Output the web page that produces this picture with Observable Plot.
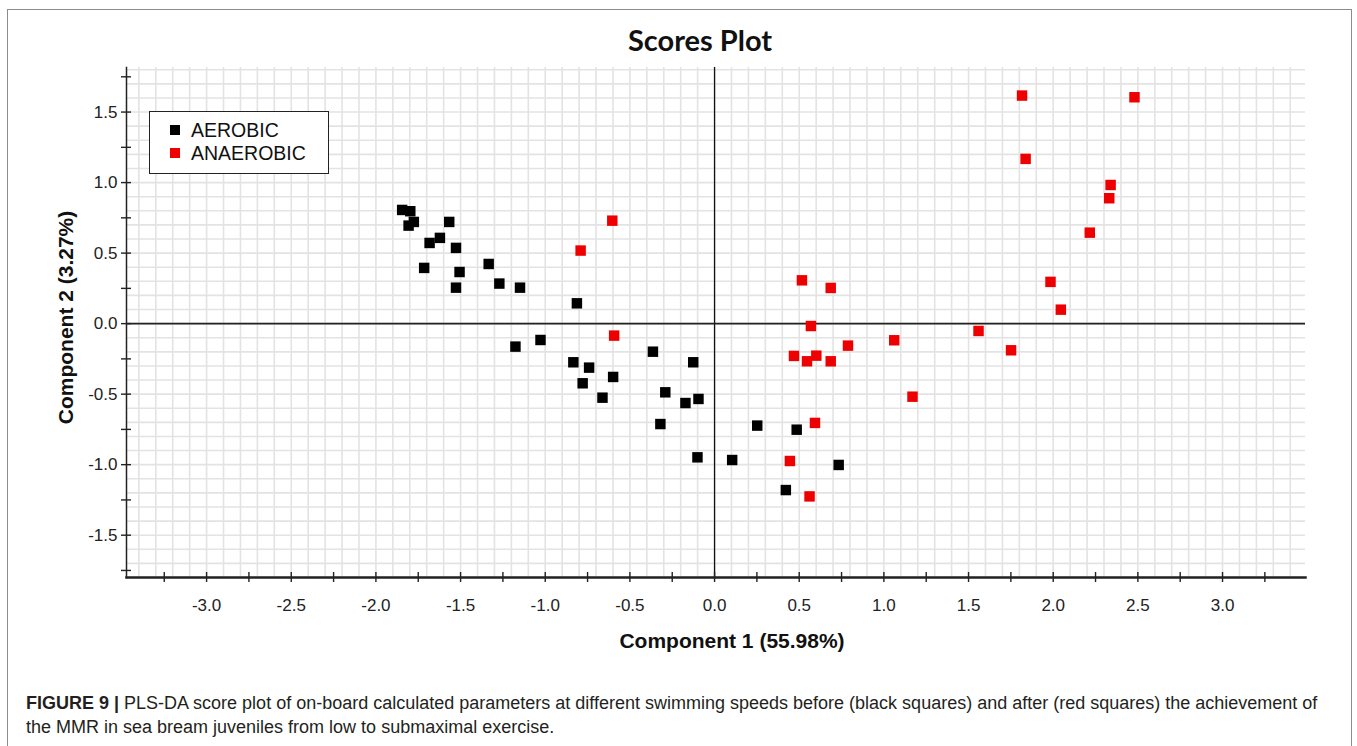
<!DOCTYPE html>
<html>
<head>
<meta charset="utf-8">
<script src="https://cdn.jsdelivr.net/npm/d3@7"></script>
<script src="https://cdn.jsdelivr.net/npm/@observablehq/plot@0.6"></script>
<style>
  html, body { margin: 0; padding: 0; background: #fff; }
  #page { position: relative; width: 1357px; height: 746px; overflow: hidden; font-family: "Liberation Sans", Arial, sans-serif; color: #222; }
  #border { position: absolute; left: 7px; top: 9px; width: 1345px; height: 800px; border: 1.5px solid #8c8c8c; box-sizing: border-box; }
  #chart { position: absolute; left: 0; top: 0; }
  #title { position: absolute; left: 0; width: 1400px; top: 24px; text-align: center; font-family: Lato, "Open Sans", sans-serif; font-weight: 700; font-size: 29px; line-height: 32px; color: #111; }
  #legend { position: absolute; left: 149px; top: 111px; width: 180px; height: 63px; border: 1.5px solid #222; background: #fff; box-sizing: border-box; }
  .item { position: absolute; left: 20px; height: 22px; line-height: 22px; font-size: 19.5px; color: #111; }
  .item span.sw { position: absolute; left: 0; top: 6px; width: 10px; height: 10px; }
  .item span.lb { position: absolute; left: 21px; top: 0; white-space: nowrap; }
  #caption { position: absolute; left: 26px; top: 691px; font-size: 18px; line-height: 24px; color: #231f20; white-space: nowrap; }
  #caption b { font-weight: 700; }
</style>
</head>
<body>
<div id="page">
  <div id="border"></div>
  <div id="chart"></div>
  <div id="title">Scores Plot</div>
  <div id="legend"></div>
  <div id="caption"></div>
</div>
<script>
// PLS-DA scores: component 1 (x) and component 2 (y) for each group
const groups = ["AEROBIC", "ANAEROBIC"];
const groupColors = ["#000000", "#ee0000"];

const aerobicX = [-1.845, -1.797, -1.776, -1.807, -1.567, -1.683, -1.622, -1.527, -1.715, -1.506,
                  -1.527, -1.334, -1.271, -1.149, -0.813, -1.176, -1.028, -0.834, -0.741, -0.779,
                  -0.599, -0.662, -0.364, -0.126, -0.291, -0.172, -0.095, -0.320, -0.101, 0.252,
                  0.485, 0.104, 0.733, 0.421];
const aerobicY = [0.806, 0.797, 0.721, 0.695, 0.721, 0.572, 0.608, 0.537, 0.395, 0.366,
                  0.255, 0.423, 0.284, 0.255, 0.144, -0.163, -0.116, -0.274, -0.312, -0.423,
                  -0.378, -0.525, -0.199, -0.274, -0.487, -0.563, -0.534, -0.712, -0.948, -0.723,
                  -0.752, -0.967, -1.002, -1.180];

const anaerobicX = [-0.791, -0.604, -0.593, 0.516, 0.686, 0.569, 0.788, 1.061, 0.469, 0.601,
                    0.546, 0.686, 1.169, 0.593, 0.445, 0.561, 1.816, 2.480, 1.837, 2.339,
                    2.331, 2.216, 1.984, 2.045, 1.559, 1.751];
const anaerobicY = [0.518, 0.730, -0.085, 0.307, 0.253, -0.017, -0.156, -0.118, -0.229, -0.227,
                    -0.267, -0.267, -0.518, -0.704, -0.974, -1.225, 1.617, 1.605, 1.168, 0.983,
                    0.889, 0.645, 0.296, 0.099, -0.052, -0.189];

// Axis tick labels and tick-mark positions
const xTickLabels = [-3.0, -2.5, -2.0, -1.5, -1.0, -0.5, 0.0, 0.5, 1.0, 1.5, 2.0, 2.5, 3.0];
const yTickLabels = [-1.5, -1.0, -0.5, 0.0, 0.5, 1.0, 1.5];
const xTickMarks = d3.range(-13, 14).map(i => i * 0.25);
const yTickMarks = d3.range(-7, 8).map(i => i * 0.25);
const xGrid = d3.range(-34, 35).map(i => i / 10);
const yGrid = d3.range(-18, 19).map(i => i / 10);

const scores = [
  ...aerobicX.map((v, i) => ({group: groups[0], c1: v, c2: aerobicY[i]})),
  ...anaerobicX.map((v, i) => ({group: groups[1], c1: v, c2: anaerobicY[i]}))
];

const fmt = d => d.toFixed(1);

const chart = Plot.plot({
  width: 1357,
  height: 680,
  marginLeft: 126,
  marginRight: 52,
  marginTop: 67,
  marginBottom: 103,
  x: {domain: [-3.473, 3.49]},
  y: {domain: [-1.80, 1.816]},
  color: {domain: groups, range: groupColors},
  style: {fontFamily: "'Liberation Sans', Arial, sans-serif", background: "transparent", overflow: "visible", color: "#222"},
  marks: [
    Plot.gridX(xGrid, {stroke: "#e3e3e3", strokeOpacity: 1, strokeWidth: 1.6}),
    Plot.gridY(yGrid, {stroke: "#e3e3e3", strokeOpacity: 1, strokeWidth: 1.6}),
    Plot.ruleX([0], {stroke: "#111", strokeWidth: 1.3}),
    Plot.ruleY([0], {stroke: "#222", strokeWidth: 1.8}),
    Plot.frame({anchor: "left", stroke: "#222", strokeWidth: 1.5}),
    Plot.frame({anchor: "bottom", stroke: "#222", strokeWidth: 2.5}),
    // tick marks crossing the axis lines
    Plot.axisX({ticks: xTickMarks, tickSize: 10, dy: -5, tickFormat: () => "", label: null, stroke: "#222", strokeWidth: 1.4}),
    Plot.axisY({ticks: yTickMarks, tickSize: 10, dx: 5, tickFormat: () => "", label: null, stroke: "#222", strokeWidth: 1.4}),
    // tick labels
    Plot.axisX({ticks: xTickLabels, tickSize: 0, tickPadding: 21, tickFormat: fmt, label: null, fontSize: 17, fill: "#222"}),
    Plot.axisY({ticks: yTickLabels, tickSize: 0, tickPadding: 9, tickFormat: fmt, label: null, fontSize: 17, fill: "#222"}),
    // axis titles
    Plot.text(["Component 1 (55.98%)"], {text: d => d, frameAnchor: "bottom", textAnchor: "middle", dy: 70, dx: 16, fontSize: 21, fontWeight: "bold", fill: "#111"}),
    Plot.text(["Component 2 (3.27%)"], {text: d => d, frameAnchor: "left", textAnchor: "middle", dx: -60, dy: -5, rotate: -90, fontSize: 21, fontWeight: "bold", fill: "#111"}),
    // score points
    Plot.dot(scores, {x: "c1", y: "c2", fill: "group", symbol: "square", r: 5.9})
  ]
});
document.getElementById("chart").appendChild(chart);

// legend
const legend = document.getElementById("legend");
groups.forEach((g, i) => {
  const item = document.createElement("div");
  item.className = "item";
  item.style.top = (7 + i * 23) + "px";
  item.innerHTML = `<span class="sw" style="background:${groupColors[i]}"></span><span class="lb">${g}</span>`;
  legend.appendChild(item);
});

// caption
document.getElementById("caption").innerHTML =
  "<b>FIGURE 9 |</b> PLS-DA score plot of on-board calculated parameters at different swimming speeds before (black squares) and after (red squares) the achievement of<br>" +
  "the MMR in sea bream juveniles from low to submaximal exercise.";
</script>
</body>
</html>
